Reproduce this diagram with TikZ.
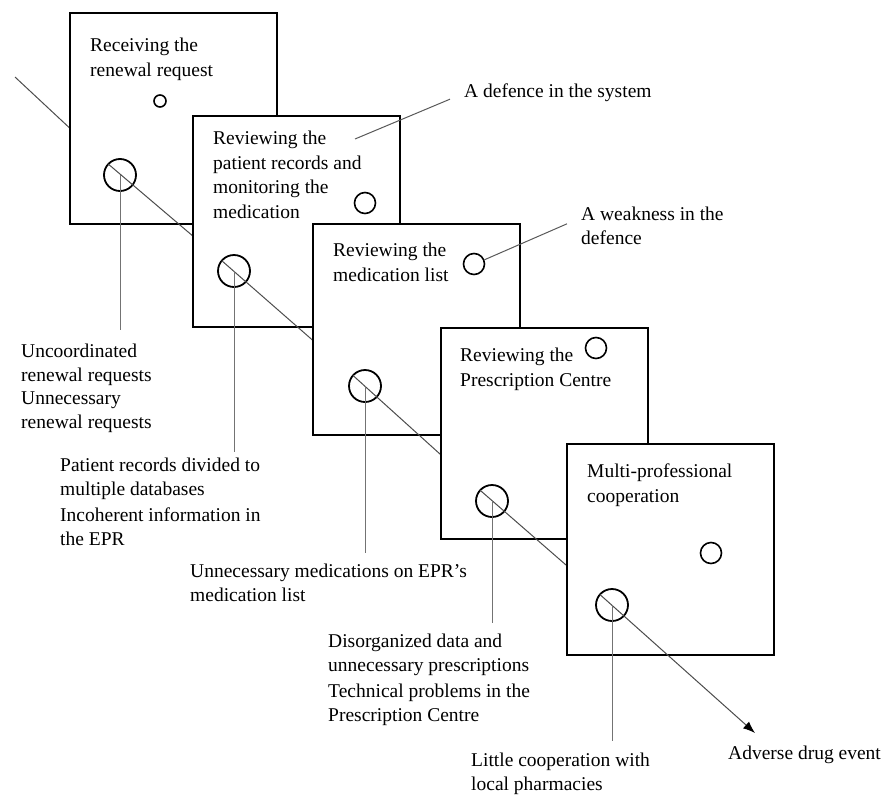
\documentclass[tikz,border=0pt]{standalone}
\usepackage{fontspec}
\setmainfont{Liberation Serif}
\usetikzlibrary{calc,arrows.meta}

\tikzset{
  stagebox/.style={draw, line width=2pt, fill=white, minimum width=207pt, minimum height=211pt, inner sep=0pt},
  defence/.style={circle, draw, line width=1.6pt, minimum size=21pt, inner sep=0pt},
  hole/.style={circle, draw, line width=1.8pt, minimum size=32pt, inner sep=0pt},
  chain/.style={draw=black!70, line width=1pt},
  drop/.style={draw=black!55, line width=1pt},
  leader/.style={draw=black!65, line width=1pt},
  txt/.style={anchor=north west, inner sep=0pt, align=left, font=\fontsize{19.5}{24.5}\selectfont},
  note/.style={txt, font=\fontsize{19.5}{23.5}\selectfont},
}

\begin{document}
\begin{tikzpicture}[x=1pt, y=-1pt]
  \useasboundingbox (0,0) rectangle (885,795);
  \coordinate (start) at (15,77);
  \coordinate (p1) at (120,175);
  \coordinate (p2) at (234,271);
  \coordinate (p3) at (365,386);
  \coordinate (p4) at (492,501);
  \coordinate (p5) at (612,605);
  \coordinate (tip) at (755,733);
  % stage 1
  \draw[chain] (start) -- (p1);
  \node[stagebox] (s1) at (173.5,118) {};
  \node[txt] (t1) at (90,38) {Receiving the\\renewal request};
  \node[defence, minimum size=12pt] (d1) at (160,101) {};
  \node[hole] (w1) at (p1) {};
  % stage 2
  \draw[chain] ($(p1)!16pt!(start)$) -- (p2);
  \node[stagebox] (s2) at (296.5,221) {};
  \node[txt] (t2) at (213,131) {Reviewing the\\patient records and\\monitoring the\\medication};
  \node[defence] (d2) at (365,203) {};
  \node[hole] (w2) at (p2) {};
  % stage 3
  \draw[chain] ($(p2)!16pt!(p1)$) -- (p3);
  \node[stagebox] (s3) at (416.5,329.5) {};
  \node[txt] (t3) at (333,243) {Reviewing the\\medication list};
  \node[defence] (d3) at (474,264) {};
  \node[hole] (w3) at (p3) {};
  % stage 4
  \draw[chain] ($(p3)!16pt!(p2)$) -- (p4);
  \node[stagebox] (s4) at (544,433.5) {};
  \node[txt] (t4) at (460,348) {Reviewing the\\Prescription Centre};
  \node[defence] (d4) at (596,348) {};
  \node[hole] (w4) at (p4) {};
  % stage 5
  \draw[chain] ($(p4)!16pt!(p3)$) -- (p5);
  \node[stagebox] (s5) at (670.5,549) {};
  \node[txt] (t5) at (587,464) {Multi-professional\\cooperation};
  \node[defence] (d5) at (711,553) {};
  \node[hole] (w5) at (p5) {};
  \draw[chain, -{Latex[length=12pt,width=9pt,color=black]}] ($(p5)!16pt!(p4)$) -- (tip);

  % latent conditions below each stage
  \node[note] (l1) at (21,344) {Uncoordinated\\renewal requests\\Unnecessary\\renewal requests};
  \node[note] (l2) at (60,458) {Patient records divided to\\multiple databases\\[3pt]Incoherent information in\\the EPR};
  \node[note] (l3) at (190,564) {Unnecessary medications on EPR’s\\medication list};
  \node[note] (l4) at (328,634) {Disorganized data and\\unnecessary prescriptions\\[3pt]Technical problems in the\\Prescription Centre};
  \node[note] (l5) at (471,753) {Little cooperation with\\local pharmacies};
  \node[note] (adv) at (728,746) {Adverse drug event};
  \draw[drop, shorten >=14pt] (w1.center) -- (w1 |- l1.north);
  \draw[drop, shorten >=6pt] (w2.center) -- (w2 |- l2.north);
  \draw[drop, shorten >=11pt] (w3.center) -- (w3 |- l3.north);
  \draw[drop, shorten >=11pt] (w4.center) -- (w4 |- l4.north);
  \draw[drop, shorten >=12pt] (w5.center) -- (w5 |- l5.north);

  % legend notes
  \node[note] (defnote) at (464,84) {A defence in the system};
  \node[note] (weaknote) at (581,207) {A weakness in the\\defence};
  \coordinate (defpt) at (355,139);
  \draw[leader] (defpt) -- ([xshift=-14pt,yshift=-6pt]defnote.west);
  \draw[leader] (d3.22) -- ([xshift=-14pt,yshift=2pt]weaknote.west);
\end{tikzpicture}
\end{document}
